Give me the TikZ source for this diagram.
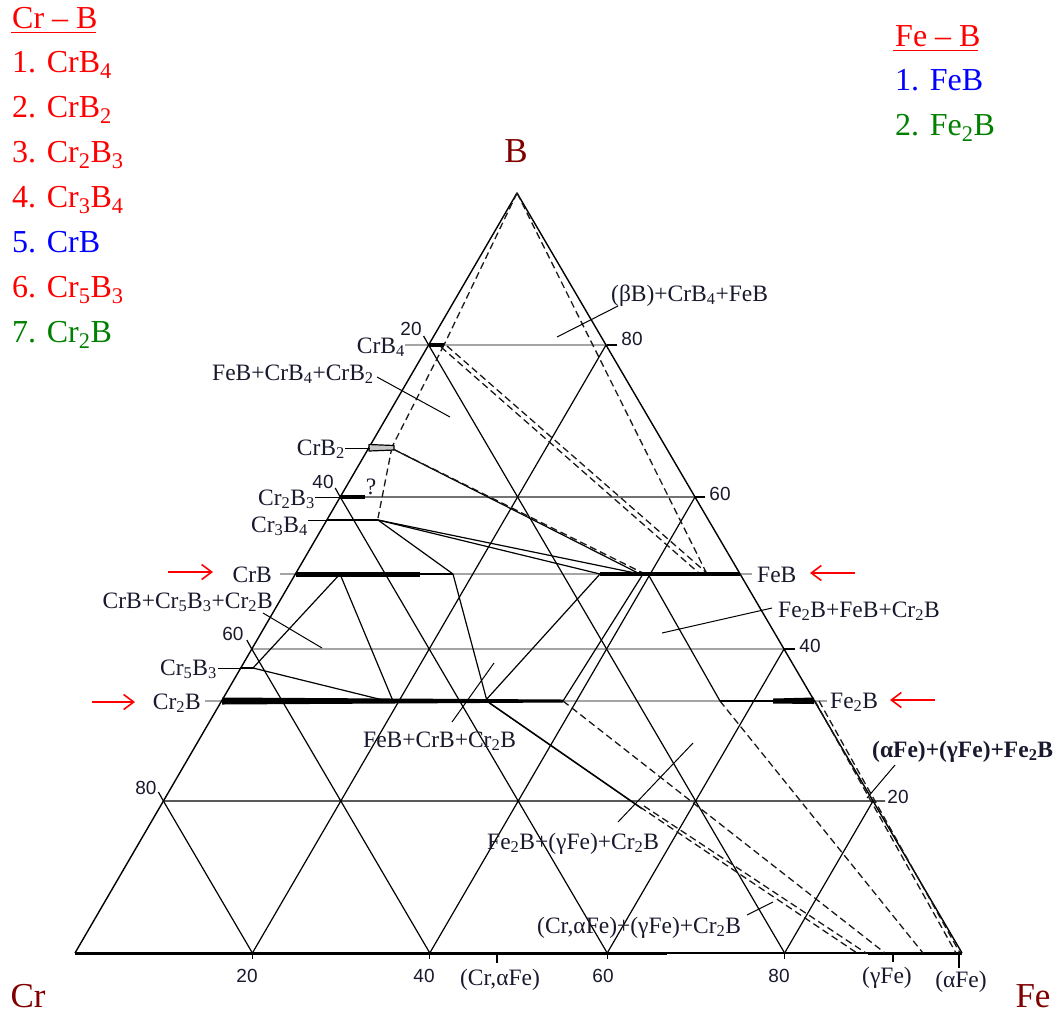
\documentclass[tikz,border=0pt]{standalone}
\usepackage{fontspec}
\setmainfont{Liberation Serif}
\newfontfamily\numfont{Liberation Sans}
\usetikzlibrary{arrows.meta}
\definecolor{lgred}{RGB}{255,0,0}
\definecolor{lgblue}{RGB}{0,0,255}
\definecolor{lggreen}{RGB}{0,128,0}
\definecolor{vtx}{RGB}{128,0,0}
\definecolor{txt}{RGB}{25,25,45}
\definecolor{gline}{RGB}{165,165,165}
\definecolor{gdark}{RGB}{115,115,115}
\begin{document}
\begin{tikzpicture}[x=1pt,y=-1pt,line join=round,
  gridln/.style={line width=1.2pt,black},
  phase/.style={line width=1.2pt,black},
  dashln/.style={line width=1.3pt,black!90,dash pattern=on 7pt off 4pt},
  glin/.style={line width=2.4pt,gline},
  ldr/.style={line width=1pt,black},
  lbl/.style={text=txt,font=\fontsize{23.5}{26}\selectfont,inner sep=0pt},
  num/.style={text=txt,font=\numfont\fontsize{19}{22}\selectfont,inner sep=0pt,anchor=base},
  leg/.style={font=\fontsize{32}{36}\selectfont,inner sep=0pt,anchor=base west},
  vlab/.style={text=vtx,font=\fontsize{35}{40}\selectfont,inner sep=0pt,anchor=base},
  redarr/.style={lgred,line width=1.6pt,-{Straight Barb[length=10pt,width=15pt]}}]
\useasboundingbox (0,0) rectangle (1060,1013);
\fill[white] (0,0) rectangle (1060,1013);
\coordinate (Cr) at (75,953);
\coordinate (Fe) at (962,953);
\coordinate (B) at (517,193);

% ---- gray composition lines ----
\draw[glin] (405,345) -- (607,345);
\draw[line width=1.7pt,gdark] (365,497) -- (695,497);
\draw[glin] (280,574) -- (752,574);
\draw[glin] (252,649) -- (785,649);
\draw[glin] (205,701) -- (827,701);

% ---- triangular grid ----
\foreach \a/\b in {0.2/0.8,0.4/0.6,0.6/0.4,0.8/0.2}{
  \draw[gridln] (barycentric cs:Cr=\b,Fe=\a,B=0) -- (barycentric cs:Cr=0,Fe=\a,B=\b);
  \draw[gridln] (barycentric cs:Cr=\a,Fe=\b,B=0) -- (barycentric cs:Cr=\a,Fe=0,B=\b);
}
\draw[gridln] (barycentric cs:Cr=0.8,Fe=0,B=0.2) -- (885,801);
\draw[line width=1.4pt] (Cr) -- (B) -- (Fe);
\draw[line width=1.8pt] (Cr) -- (Fe);
\draw[line width=3pt] (Cr) -- (667,953);
\draw[line width=3pt] (868,953) -- (Fe);

% ticks
\foreach \p in {(428.6,345),(340.2,497),(251.8,649),(163.4,801)}{
  \draw[gridln] \p -- ++(-5,-9);}
\draw[gridln] (607,345) -- (617,345);
\draw[gridln] (695,497) -- (705,497);
\draw[gridln] (784,649) -- (795,649);
\foreach \x in {252.4,429.8,607.2,784.6}{\draw[gridln] (\x,953) -- (\x,959);}
\draw[gridln] (497,953) -- (497,963);
\draw[gridln] (893,953) -- (893,962);
\draw[gridln] (959,953) -- (959,968);

% ---- phase boundary lines (solid) ----
\draw[phase] (393,449) -- (640,574);
\draw[phase] (378,520) -- (640,574);
\draw[phase] (378,520) -- (600,574);
\draw[phase] (378,520) -- (453,574);
\draw[phase] (453,574) -- (487,701);
\draw[phase] (600,574) -- (485,701);
\draw[phase] (643,574) -- (563,701);
\draw[phase] (648,574) -- (720,701);
\draw[phase] (340,574) -- (393,701);
\draw[phase] (340,574) -- (253,668);
\draw[phase] (253,668) -- (387,701);
\draw[phase] (487,701) -- (640,807);
\draw[line width=0.9pt] (489,703) -- (642,809);

% ---- dashed lines ----
\draw[dashln] (B) -- (444,345);
\draw[dashln] (444,345) -- (392,447);
\draw[dashln] (392,447) -- (378,518);
\draw[dashln] (B) -- (707,574);
\draw[dashln] (441,347) -- (700,574);
\draw[dashln] (447,346) -- (708,574);
\draw[dashln] (393,449) -- (645,574);
\draw[dashln] (563,701) -- (885,953);
\draw[dashln] (720,701) -- (923,953);
\draw[dashln] (815,701) -- (956,953);
\draw[dashln] (819,701) -- (960,953);
\draw[dashln] (640,807) -- (857,953);
\draw[dashln] (644,806) -- (866,953);

% ---- thick phase ranges ----
\draw[line width=3.5pt] (428.6,345) -- (444,345);
\draw[line width=1.2pt,fill=gray!45] (369,444.5) -- (394,445.5) -- (394,450) -- (369,451) -- cycle;
\draw[line width=3.5pt] (340.2,497) -- (365,497);
\draw[line width=2.2pt] (327,520) -- (378,520);
\draw[line width=5pt] (296,574) -- (420,574);
\draw[line width=2.5pt] (420,574) -- (453,574);
\draw[line width=4pt] (600,574) -- (739.5,574);
\fill (222,697.5) -- (563,699.5) -- (563,702.5) -- (222,704.5) -- cycle;
\draw[line width=2.5pt] (720,701) -- (775,701);
\fill (773,698.5) -- (814,697.5) -- (814,704) -- (773,703.5) -- cycle;
\draw[line width=2.5pt] (241,668) -- (253,668);

% ---- leaders ----
\draw[ldr] (345,448) -- (370,448);
\draw[ldr] (315,497) -- (340,497);
\draw[ldr] (308,520) -- (327,520);
\draw[ldr] (218,668) -- (241,668);
\draw[ldr] (618,306) -- (557,337);
\draw[ldr] (377,377) -- (450,417);
\draw[ldr] (263,613) -- (322,648);
\draw[ldr] (452,722) -- (494,663);
\draw[ldr] (772,608) -- (662,633);
\draw[ldr] (895,765) -- (867,798);
\draw[ldr] (618,822) -- (693,743);
\draw[ldr] (747,915) -- (773,902);

% ---- diagram labels ----
\node[lbl,anchor=base west] (bbfeb) at (611,301) {(βB)+CrB\textsubscript{4}+FeB};
\node[lbl,anchor=base east] (crb4) at (405,353) {CrB\textsubscript{4}};
\node[lbl,anchor=base west] (feb4b2) at (212,380) {FeB+CrB\textsubscript{4}+CrB\textsubscript{2}};
\node[lbl,anchor=base east] (crb2) at (345,455) {CrB\textsubscript{2}};
\node[lbl,anchor=base] (qm) at (371,494) {?};
\node[lbl,anchor=base east] (cr2b3) at (315,505) {Cr\textsubscript{2}B\textsubscript{3}};
\node[lbl,anchor=base east] (cr3b4) at (308,532) {Cr\textsubscript{3}B\textsubscript{4}};
\node[lbl,anchor=base east] (crb) at (272,582) {CrB};
\node[lbl,anchor=base east] (crbmix) at (273,608) {CrB+Cr\textsubscript{5}B\textsubscript{3}+Cr\textsubscript{2}B};
\node[lbl,anchor=base east] (cr5b3) at (217,675) {Cr\textsubscript{5}B\textsubscript{3}};
\node[lbl,anchor=base east] (cr2b) at (201,709) {Cr\textsubscript{2}B};
\node[lbl,anchor=base west] (febcrb) at (363,747) {FeB+CrB+Cr\textsubscript{2}B};
\node[lbl,anchor=base west] (fe2bg) at (487,849) {Fe\textsubscript{2}B+(γFe)+Cr\textsubscript{2}B};
\node[lbl,anchor=base west] (cragb) at (537,933) {(Cr,αFe)+(γFe)+Cr\textsubscript{2}B};
\node[lbl,anchor=base west] (feb) at (757,582) {FeB};
\node[lbl,anchor=base west] (fe2bfeb) at (778,617) {Fe\textsubscript{2}B+FeB+Cr\textsubscript{2}B};
\node[lbl,anchor=base west] (fe2b) at (830,708) {Fe\textsubscript{2}B};
\node[lbl,anchor=base west,font=\bfseries\fontsize{23.5}{26}\selectfont] (agfe) at (872,757) {(αFe)+(γFe)+Fe\textsubscript{2}B};
\node[lbl,anchor=base] (cra) at (500,985) {(Cr,αFe)};
\node[lbl,anchor=base] (gfe) at (887,983) {(γFe)};
\node[lbl,anchor=base] (afe) at (961,987) {(αFe)};

% numbers
\node[num] (l20) at (411,335) {20};
\node[num] (l40) at (323,488) {40};
\node[num] (l60) at (233,640) {60};
\node[num] (l80) at (146,794) {80};
\node[num] (r80) at (632,345) {80};
\node[num] (r60) at (720,500) {60};
\node[num] (r40) at (810,652) {40};
\node[num] (r20) at (898,803) {20};
\node[num] (b20) at (247,982) {20};
\node[num] (b40) at (424,982) {40};
\node[num] (b60) at (603,982) {60};
\node[num] (b80) at (779,982) {80};

% vertex labels
\node[vlab] (vB) at (516,162) {B};
\node[vlab] (vCr) at (28,1007) {Cr};
\node[vlab] (vFe) at (1033,1007) {Fe};

% red arrows
\coordinate (a1s) at (168,572); \coordinate (a1e) at (213,572);
\coordinate (a2s) at (92,702); \coordinate (a2e) at (135,702);
\coordinate (a3s) at (855,573); \coordinate (a3e) at (810,573);
\coordinate (a4s) at (935,700); \coordinate (a4e) at (890,700);
\draw[redarr] (a1s) -- (a1e);
\draw[redarr] (a2s) -- (a2e);
\draw[redarr] (a3s) -- (a3e);
\draw[redarr] (a4s) -- (a4e);

% ---- legends ----
\node[leg,text=lgred] (lgA) at (12,28) {Cr – B};
\draw[lgred,line width=1.6pt] (11,32.5) -- (96,32.5);
\node[leg,text=lgred] (lg1) at (12,72) {1. CrB\textsubscript{4}};
\node[leg,text=lgred] (lg2) at (12,117) {2. CrB\textsubscript{2}};
\node[leg,text=lgred] (lg3) at (12,162) {3. Cr\textsubscript{2}B\textsubscript{3}};
\node[leg,text=lgred] (lg4) at (12,207) {4. Cr\textsubscript{3}B\textsubscript{4}};
\node[leg,text=lgblue] (lg5) at (12,252) {5. CrB};
\node[leg,text=lgred] (lg6) at (12,297) {6. Cr\textsubscript{5}B\textsubscript{3}};
\node[leg,text=lggreen] (lg7) at (12,342) {7. Cr\textsubscript{2}B};
\node[leg,text=lgred] (lgB) at (895,46) {Fe – B};
\draw[lgred,line width=1.6pt] (893,50.5) -- (978,50.5);
\node[leg,text=lgblue] (lgb1) at (895,90) {1. FeB};
\node[leg,text=lggreen] (lgb2) at (895,135) {2. Fe\textsubscript{2}B};
\end{tikzpicture}
\end{document}
